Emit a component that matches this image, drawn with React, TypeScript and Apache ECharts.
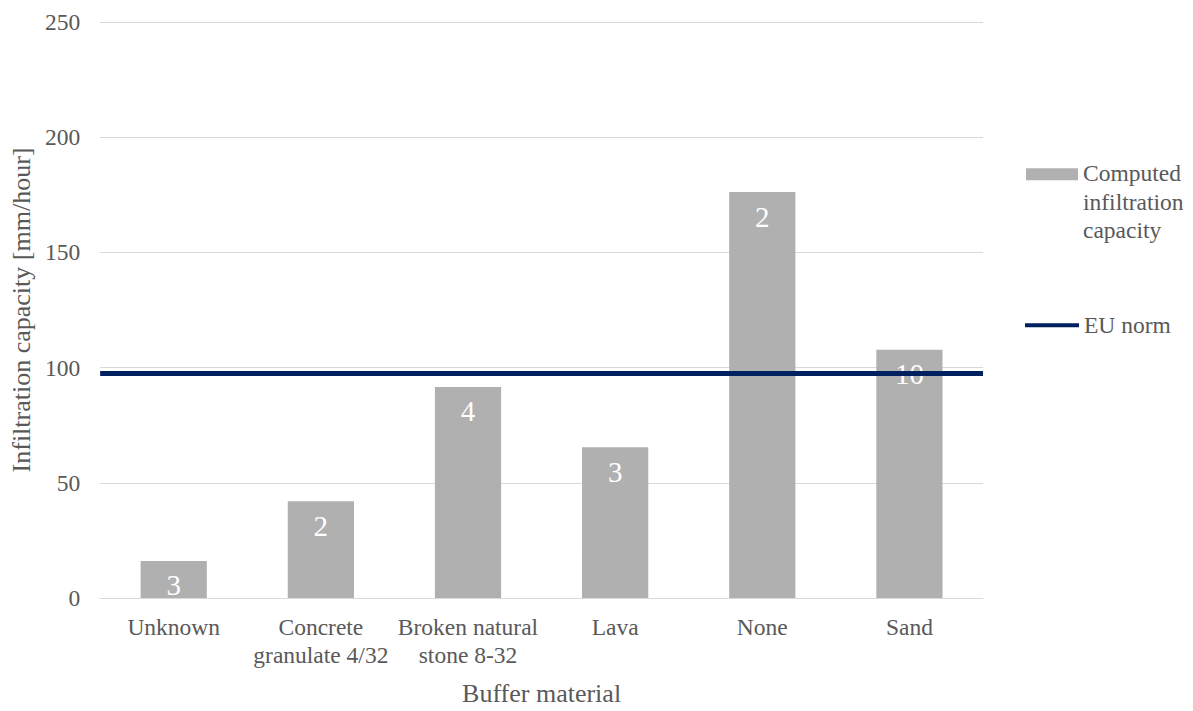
import React, { useEffect, useRef } from "react";
import * as echarts from "echarts";

// Buffer materials along the x axis
const categories = [
  "Unknown",
  "Concrete\ngranulate 4/32",
  "Broken natural\nstone 8-32",
  "Lava",
  "None",
  "Sand",
];

// Computed infiltration capacity per buffer material [mm/hour]
const capacityValues = [16.1, 42.0, 91.6, 65.4, 176.2, 107.7];

// Number of measurements behind each bar (shown inside the bar)
const sampleCounts = [3, 2, 4, 3, 2, 10];

// EU norm for infiltration capacity [mm/hour]
const euNorm = 97.6;

const yTicks = { min: 0, max: 250, interval: 50 };

const FONT = "'Liberation Serif', 'Times New Roman', serif";
const TEXT_COLOR = "#595959";
const BAR_COLOR = "#b0b0b0";
const NORM_COLOR = "#002060";
const GRID_COLOR = "#d9d9d9";

const BAR_NAME = "Computed infiltration capacity";
const NORM_NAME = "EU norm";

// Legend icon for the bar series: a 52x12 swatch beside the first text line
// of a three-line label (the two zero-length moves fix the icon's box size)
const BAR_LEGEND_ICON = "path://M0,0L0,0M0,9L52,9L52,21L0,21ZM52,85L52,85";

export default function App() {
  const ref = useRef<HTMLDivElement>(null);

  useEffect(() => {
    if (!ref.current) return;
    const chart = echarts.init(ref.current, undefined, { renderer: "svg" });

    chart.setOption({
      animation: false,
      backgroundColor: "#ffffff",
      textStyle: { fontFamily: FONT, color: TEXT_COLOR },
      grid: { left: 100, top: 22, width: 883, height: 584, containLabel: false },
      legend: [
        {
          data: [{ name: BAR_NAME, icon: BAR_LEGEND_ICON }],
          orient: "vertical",
          left: 1021,
          top: 154,
          itemWidth: 52,
          itemHeight: 85,
          itemGap: 5,
          selectedMode: false,
          formatter: () => "Computed\ninfiltration\ncapacity",
          textStyle: {
            fontFamily: FONT,
            fontSize: 23.5,
            color: TEXT_COLOR,
            lineHeight: 28.5,
          },
        },
        {
          data: [{ name: NORM_NAME, icon: "rect" }],
          orient: "vertical",
          left: 1020,
          top: 306,
          itemWidth: 54,
          itemHeight: 4,
          selectedMode: false,
          textStyle: {
            fontFamily: FONT,
            fontSize: 23.5,
            color: TEXT_COLOR,
            lineHeight: 28.5,
          },
        },
      ],
      xAxis: {
        type: "category",
        data: categories,
        name: "Buffer material",
        nameLocation: "middle",
        nameGap: 82,
        nameTextStyle: { fontFamily: FONT, fontSize: 26, color: TEXT_COLOR, lineHeight: 26 },
        axisTick: { show: false },
        axisLine: { lineStyle: { color: GRID_COLOR, width: 1 } },
        axisLabel: {
          interval: 0,
          margin: 15,
          fontFamily: FONT,
          fontSize: 23.5,
          lineHeight: 28,
          color: TEXT_COLOR,
        },
      },
      yAxis: {
        type: "value",
        min: yTicks.min,
        max: yTicks.max,
        interval: yTicks.interval,
        name: "Infiltration capacity [mm/hour]",
        nameLocation: "middle",
        nameGap: 64,
        nameTextStyle: { fontFamily: FONT, fontSize: 26, color: TEXT_COLOR, lineHeight: 26 },
        axisLine: { show: false },
        axisTick: { show: false },
        axisLabel: { margin: 20, fontFamily: FONT, fontSize: 23.5, color: TEXT_COLOR },
        splitLine: { lineStyle: { color: GRID_COLOR, width: 1 } },
      },
      series: [
        {
          name: BAR_NAME,
          type: "bar",
          data: capacityValues,
          barCategoryGap: "55%",
          itemStyle: { color: BAR_COLOR },
          z: 2,
          label: {
            show: true,
            position: "insideTop",
            distance: 10,
            color: "#ffffff",
            fontFamily: FONT,
            fontSize: 29,
            formatter: (p: any) => String(sampleCounts[p.dataIndex]),
          },
        },
        {
          name: NORM_NAME,
          type: "line",
          data: [],
          symbol: "none",
          itemStyle: { color: NORM_COLOR },
          lineStyle: { color: NORM_COLOR, width: 4 },
          z: 3,
          markLine: {
            silent: true,
            symbol: "none",
            label: { show: false },
            lineStyle: { color: NORM_COLOR, width: 5, type: "solid" },
            data: [{ yAxis: euNorm }],
          },
        },
      ],
    });

    return () => chart.dispose();
  }, []);

  return (
    <div
      ref={ref}
      style={{ position: "fixed", left: 0, top: 0, width: 1193, height: 711 }}
    />
  );
}
